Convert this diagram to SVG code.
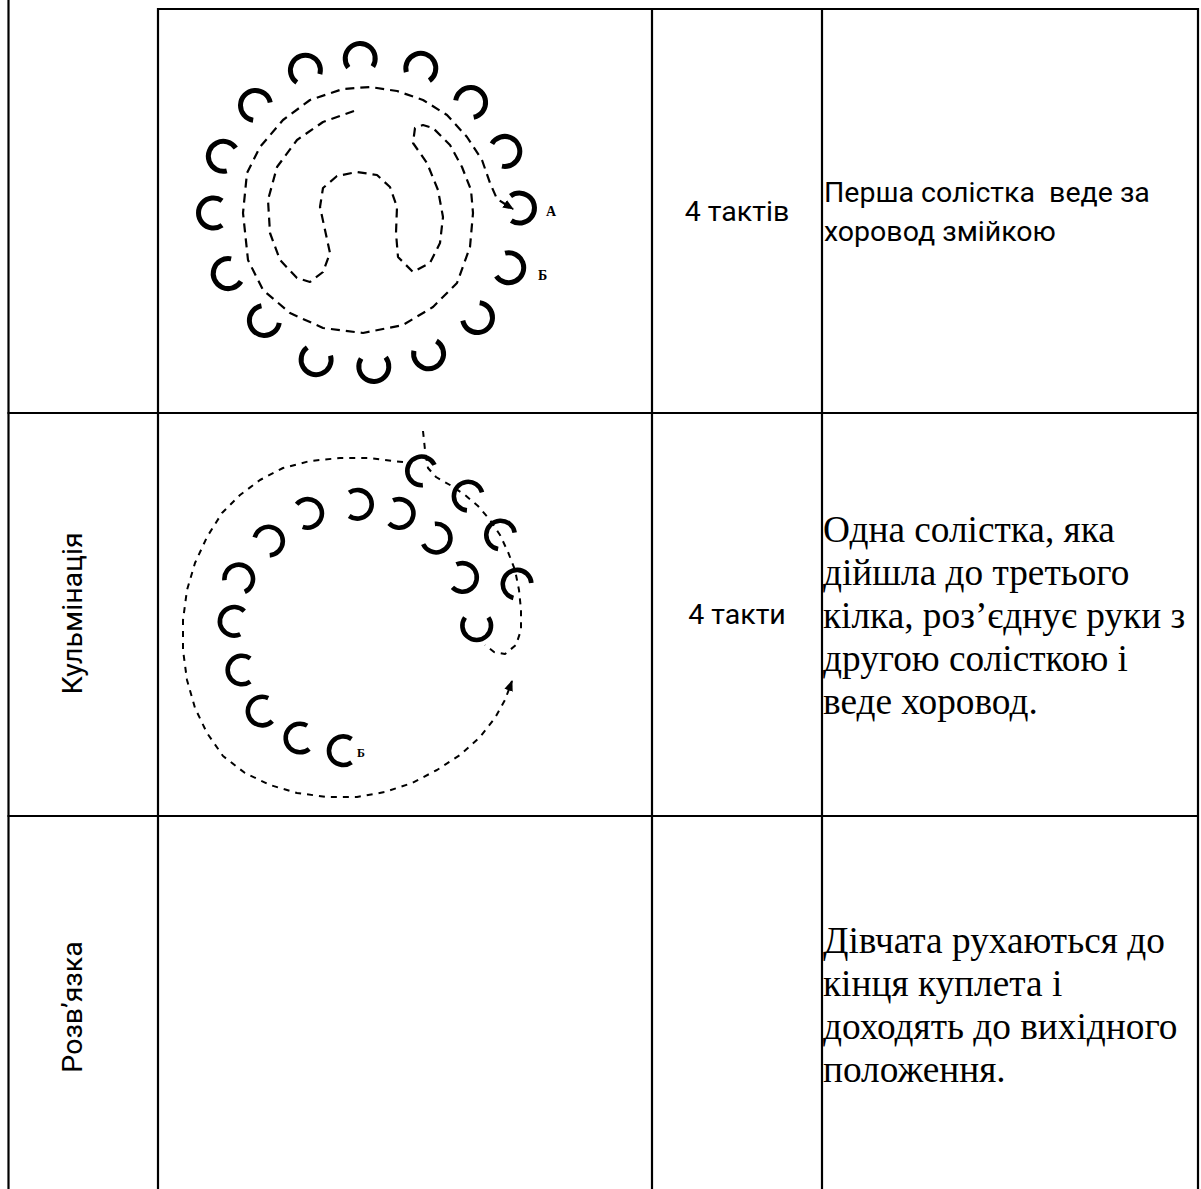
<svg xmlns="http://www.w3.org/2000/svg" xmlns:xlink="http://www.w3.org/1999/xlink" width="1201" height="1189" viewBox="0 0 1201 1189">
<style>
.grid{stroke:#000;stroke-width:2.2;fill:none}
.sans{font-family:Roboto,'Noto Sans','DejaVu Sans',sans-serif;font-size:28.5px;fill:#000}
.serif{font-family:'Liberation Serif','Times New Roman',serif;font-size:37.3px;fill:#000}
.lbl{font-family:'Liberation Serif','Times New Roman',serif;font-weight:bold;fill:#000}
.d1{fill:none;stroke:#000;stroke-width:2.2;stroke-dasharray:9 6;stroke-linejoin:round}
.d2{fill:none;stroke:#000;stroke-width:2;stroke-dasharray:6 6;stroke-linejoin:round}
</style>
<defs>
<path id="cs" d="M8.6,-12.3 A15,15 0 1 0 8.6,12.3" fill="none" stroke="#000" stroke-width="5"/>
<path id="cs2" d="M8.2,-11.7 A14.3,14.3 0 1 0 8.2,11.7" fill="none" stroke="#000" stroke-width="4.6"/>
<marker id="ah" viewBox="0 0 10 10" refX="9" refY="5" markerWidth="11" markerHeight="11" markerUnits="userSpaceOnUse" orient="auto">
<path d="M0,1 L10,5 L0,9 z" fill="#000" stroke="none"/>
</marker>
</defs>
<rect width="1201" height="1189" fill="#fff"/>

<g id="grid">
<line class="grid" x1="8.5" y1="0" x2="8.5" y2="1189"/>
<line class="grid" x1="158" y1="8" x2="158" y2="1189"/>
<line class="grid" x1="652" y1="8" x2="652" y2="1189"/>
<line class="grid" x1="822" y1="8" x2="822" y2="1189"/>
<line class="grid" x1="1198" y1="8" x2="1198" y2="1189" stroke-width="2.6"/>
<line class="grid" x1="157" y1="9" x2="1199" y2="9"/>
<line class="grid" x1="7.5" y1="413" x2="1199" y2="413"/>
<line class="grid" x1="7.5" y1="816" x2="1199" y2="816"/>
</g>

<g id="label-culmination">
<text class="sans" transform="translate(82,613.5) rotate(-90)" text-anchor="middle">Кульмінація</text>
</g>
<g id="label-resolution">
<text class="sans" transform="translate(82,1007) rotate(-90)" text-anchor="middle">Розв’язка</text>
</g>

<g id="diagram1">
<g id="d1-dancers">
<use href="#cs" transform="translate(360.2,58.5) rotate(87.5)"/>
<use href="#cs" transform="translate(305.4,70.2) rotate(70)"/>
<use href="#cs" transform="translate(420.8,68.3) rotate(110.4)"/>
<use href="#cs" transform="translate(255.5,105.4) rotate(44)"/>
<use href="#cs" transform="translate(470.6,102.6) rotate(133.2)"/>
<use href="#cs" transform="translate(223.3,156.3) rotate(21.5)"/>
<use href="#cs" transform="translate(504.8,151.4) rotate(155.9)"/>
<use href="#cs" transform="translate(213.5,213) rotate(0)"/>
<use href="#cs" transform="translate(519.5,208.1) rotate(178.2)"/>
<use href="#cs" transform="translate(228.2,273.6) rotate(-23.6)"/>
<use href="#cs" transform="translate(508.7,267.7) rotate(201.1)"/>
<use href="#cs" transform="translate(264.4,320.5) rotate(-46.3)"/>
<use href="#cs" transform="translate(477.5,317.6) rotate(-136.6)"/>
<use href="#cs" transform="translate(316.1,359.7) rotate(-70.9)"/>
<use href="#cs" transform="translate(428.6,353.8) rotate(-113.6)"/>
<use href="#cs" transform="translate(373.8,366.5) rotate(-92.6)"/>
</g>
<g id="d1-connectors">
<path class="d1" marker-end="url(#ah)" d="M354,111 L323,122 L297,140 L277,167 L268,200 L270,233 L280,260 L297,278 L310,282 L323,272 L330,253 L325,230 L320,207 L323,188 L337,176 L357,172 L377,175 L390,187 L397,207 L396,233 L398,257 L413,272 L430,263 L440,243 L443,217 L438,190 L427,163 L413,143 L415,128 L423,125 L433,128 L450,145 L462,167 L471,190 L473,213 L470,247 L457,283 L433,307 L403,325 L363,333 L323,328 L290,313 L263,290 L248,260 L243,213 L247,173 L260,147 L283,120 L310,100 L343,89 L370,87 L397,91 L423,100 L447,115 L467,137 L482,160 L490,183 L497,199 L513,209"/>
</g>
<text class="lbl" x="546" y="216" font-size="14">А</text>
<text class="lbl" x="538" y="280" font-size="14">Б</text>
</g>

<g id="diagram2">
<g id="d2-dancers">
<use href="#cs2" transform="translate(421.6,470.9) rotate(30)"/>
<use href="#cs2" transform="translate(468.2,496.1) rotate(40)"/>
<use href="#cs2" transform="translate(500.6,535) rotate(45)"/>
<use href="#cs2" transform="translate(517.1,584.2) rotate(50)"/>
<use href="#cs2" transform="translate(357.4,504.3) rotate(180)"/>
<use href="#cs2" transform="translate(307.6,513.4) rotate(165)"/>
<use href="#cs2" transform="translate(268.5,541.1) rotate(140)"/>
<use href="#cs2" transform="translate(399.1,513.4) rotate(190)"/>
<use href="#cs2" transform="translate(436.1,538.1) rotate(210)"/>
<use href="#cs2" transform="translate(462.5,577.4) rotate(190)"/>
<use href="#cs2" transform="translate(476.7,625.7) rotate(270)"/>
<use href="#cs2" transform="translate(238.7,579) rotate(120)"/>
<use href="#cs2" transform="translate(234.2,621.3) rotate(10)"/>
<use href="#cs2" transform="translate(242,670) rotate(0)"/>
<use href="#cs2" transform="translate(262.2,711.1) rotate(-10)"/>
<use href="#cs2" transform="translate(300,738) rotate(-5)"/>
<use href="#cs2" transform="translate(343.3,750.7) rotate(0)"/>
</g>
<g id="d2-connectors">
<path class="d2" d="M423,431 L425,450 L428,468 L436,477 L450,485 L465,495 L478,506 L490,520 L500,535 L508,552 L515,570 L519,590 L521,610 L521,630 L516,645 L505,654 L494,652 L485,645"/>
<path class="d2" marker-end="url(#ah)" d="M403,462 L393,461 L370,458 L340,458 L310,461 L283,468 L260,480 L240,495 L222,513 L207,537 L195,563 L187,590 L183,620 L183,650 L187,680 L195,708 L207,733 L223,756 L245,773 L270,785 L297,793 L327,797 L357,797 L385,792 L412,783 L437,770 L460,755 L480,737 L495,718 L505,700 L512,681"/>
</g>
<text class="lbl" x="357" y="757" font-size="12">Б</text>
</g>

<g id="row1-takt">
<text class="sans" x="737" y="221" text-anchor="middle">4 тактів</text>
</g>
<g id="row1-desc">
<text class="sans" x="824" y="202" xml:space="preserve">Перша солістка  веде за</text>
<text class="sans" x="824" y="241">хоровод змійкою</text>
</g>

<g id="row2-takt">
<text class="sans" x="737" y="624" text-anchor="middle">4 такти</text>
</g>
<g id="row2-desc">
<text class="serif" x="823" y="542">Одна солістка, яка</text>
<text class="serif" x="823" y="585">дійшла до третього</text>
<text class="serif" x="823" y="628">кілка, роз’єднує руки з</text>
<text class="serif" x="823" y="671">другою солісткою і</text>
<text class="serif" x="823" y="714">веде хоровод.</text>
</g>

<g id="row3-desc">
<text class="serif" x="823" y="953">Дівчата рухаються до</text>
<text class="serif" x="823" y="996">кінця куплета і</text>
<text class="serif" x="823" y="1039">доходять до вихідного</text>
<text class="serif" x="823" y="1082">положення.</text>
</g>
</svg>
